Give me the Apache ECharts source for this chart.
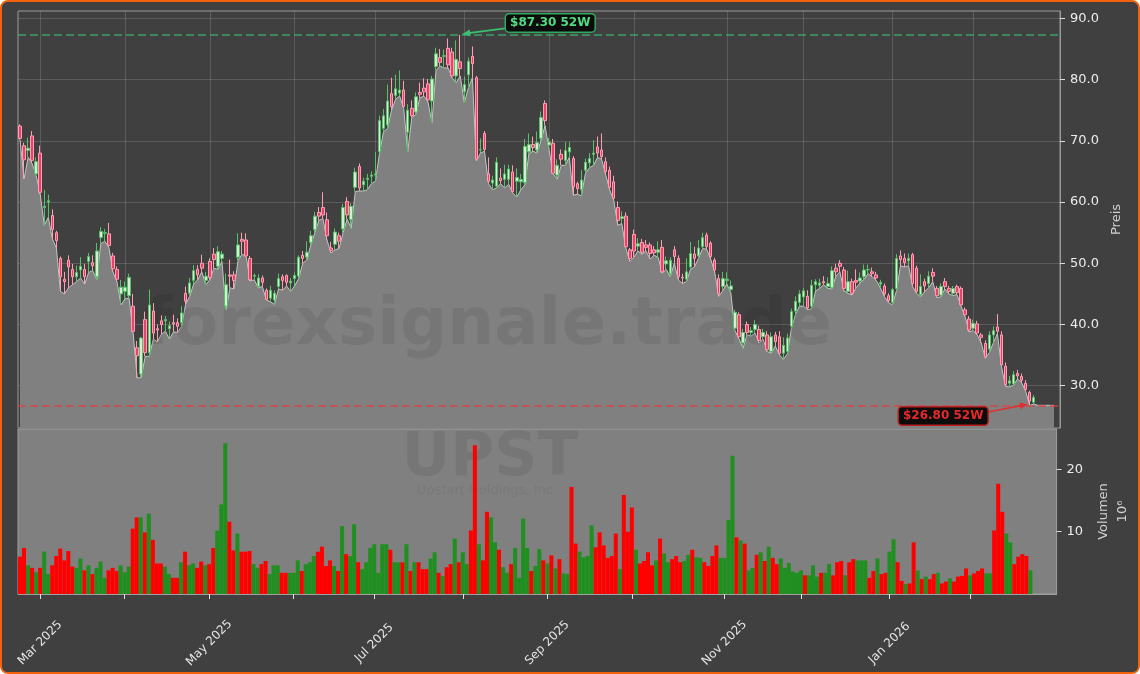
<!DOCTYPE html>
<html><head><meta charset="utf-8">
<script src="https://cdn.jsdelivr.net/npm/echarts@6/dist/echarts.min.js"></script>
<style>
html,body{margin:0;padding:0;background:#ffffff;}
#frame{position:absolute;left:0;top:0;width:1140px;height:674px;box-sizing:border-box;border:2px solid #f2620c;border-radius:8px;overflow:hidden;background:#404040;}
#chart{position:absolute;left:-2px;top:-2px;width:1140px;height:674px;}
</style></head><body>
<div id="frame"><div id="chart"></div></div>
<script>
// ---------------- DATA ----------------
const START_DATE = '2025-02-24';
const END_DATE = '2026-02-24';
const HOLIDAYS = ['2025-04-18','2025-05-26','2025-06-19','2025-07-04','2025-09-01','2025-11-27','2025-12-25','2026-01-01','2026-01-19','2026-02-16'];
const MONTHS = ['Jan','Feb','Mar','Apr','May','Jun','Jul','Aug','Sep','Oct','Nov','Dec'];
const PRICE_TICKS = [30,40,50,60,70,80,90];
const VOLUME_TICKS = [10,20];

const open = [
72.4,69.2,68.4,70.8,64.6,68.0,59.1,60.0,57.8,55.0,
50.8,47.4,50.5,49.0,47.8,48.9,49.0,50.3,50.1,47.8,
54.2,54.9,54.8,51.2,49.0,45.0,45.4,44.7,43.0,36.2,
31.9,40.8,35.4,42.2,39.3,40.6,40.6,39.3,40.3,40.3,
40.3,45.1,45.1,47.2,49.0,50.0,47.2,50.3,51.5,49.5,
50.8,43.0,48.1,48.1,51.0,53.9,53.8,50.8,47.9,46.2,
47.6,45.6,44.3,44.0,46.2,47.8,48.0,46.8,47.5,47.9,
51.3,51.0,53.4,55.5,58.3,59.1,57.1,52.5,53.1,54.5,
55.6,60.1,57.1,62.4,65.8,62.8,63.7,64.2,64.4,68.2,
72.0,72.6,77.7,77.4,77.8,78.3,71.4,75.3,74.7,77.9,
78.6,79.3,76.5,82.1,83.6,83.8,85.1,84.5,80.6,82.9,
78.0,80.8,83.8,80.3,68.5,71.2,64.6,63.1,62.6,63.9,
63.7,63.7,64.9,63.4,63.3,63.2,68.2,69.4,68.5,70.4,
76.1,69.3,69.6,64.4,67.8,66.8,68.2,67.1,63.0,62.0,
65.2,66.4,67.8,69.0,68.5,66.6,65.2,63.3,59.1,57.3,
57.7,52.2,54.7,52.8,53.4,53.0,53.0,52.2,51.8,52.6,
49.9,48.3,52.2,50.8,47.7,47.4,49.4,51.5,51.2,52.7,
54.6,53.3,50.5,47.5,46.2,47.2,45.7,39.4,41.6,37.0,
40.0,38.7,39.2,39.2,38.0,38.3,35.6,38.3,38.0,35.3,
35.6,39.7,42.2,43.6,44.5,44.6,43.0,46.5,46.4,47.0,
46.2,46.0,49.2,50.0,48.9,45.4,47.0,47.2,47.1,47.8,
48.9,48.6,48.1,46.6,46.3,44.7,43.6,45.9,51.2,50.8,
50.4,51.4,49.2,44.9,47.0,46.7,48.5,45.9,44.8,47.0,
45.9,45.1,46.2,45.9,42.4,40.9,39.4,40.1,38.3,36.9,
36.0,38.3,39.6,38.3,33.2,30.4,30.3,32.0,31.5,30.4,
28.9,27.3];

const high = [
72.7,69.7,70.5,71.6,67.3,69.2,62.0,61.2,58.8,55.3,
51.1,48.6,51.3,49.9,49.6,51.0,49.9,51.7,51.3,53.3,
55.9,55.6,56.6,51.7,49.5,47.3,47.0,48.3,45.0,37.3,
38.0,42.1,45.7,43.5,40.0,41.5,41.4,40.5,41.6,41.0,
43.0,46.2,47.6,49.7,49.7,51.4,48.6,50.8,52.5,52.8,
52.0,48.3,50.6,48.7,54.9,55.0,54.9,51.2,48.3,48.2,
48.0,45.9,46.3,45.6,48.3,48.2,48.2,47.6,48.5,51.3,
52.0,53.6,55.3,58.4,59.2,61.6,58.3,53.5,55.7,55.0,
59.7,60.8,59.8,65.6,66.3,64.0,64.6,65.0,68.2,74.1,
75.2,79.2,80.3,80.8,81.5,79.8,76.0,76.6,77.9,79.5,
80.2,80.1,80.6,85.2,85.0,84.9,86.7,85.2,86.4,87.3,
80.5,83.6,85.4,80.6,70.4,71.6,67.3,64.3,67.3,65.5,
66.1,66.1,66.0,65.5,64.6,70.3,71.2,70.7,71.5,74.8,
76.6,70.5,70.3,67.0,68.6,69.8,69.8,67.5,63.3,65.2,
67.1,68.0,70.1,70.7,71.2,67.3,65.8,64.3,60.1,58.5,
58.3,52.5,55.5,54.1,54.0,53.8,53.4,52.8,53.6,53.8,
51.1,51.0,52.8,51.3,48.3,50.8,53.5,52.7,53.8,55.0,
55.0,53.6,50.9,48.2,48.6,48.5,47.2,42.4,42.0,39.3,
40.5,39.6,40.7,39.8,39.3,38.9,38.7,38.8,38.9,37.9,
38.5,42.6,44.6,45.6,46.0,45.6,47.3,47.4,47.5,47.9,
47.7,49.5,49.9,50.5,49.4,48.8,47.5,49.0,48.5,49.8,
49.8,49.3,48.6,47.3,46.7,45.1,46.0,51.5,52.1,51.6,
51.6,51.7,49.6,48.2,47.5,48.7,49.2,46.3,46.7,47.6,
46.3,46.3,46.5,46.2,42.8,41.4,40.8,40.6,38.6,37.4,
38.9,39.7,41.7,38.9,33.8,31.6,32.4,32.6,32.0,30.9,
29.2,28.5];

const low = [
70.2,63.8,67.3,66.3,64.3,61.3,56.2,57.5,54.0,52.5,
45.4,45.0,46.0,46.5,47.0,47.6,46.6,48.5,48.8,47.3,
53.2,53.6,52.6,48.6,47.0,43.2,44.2,44.3,38.7,31.3,
31.3,34.8,34.8,37.6,37.2,38.4,38.9,37.6,38.8,38.7,
39.7,43.3,44.6,46.6,47.3,48.6,46.5,47.3,49.2,49.0,
50.3,42.4,46.0,45.8,50.5,51.5,51.1,47.1,47.3,46.0,
46.2,44.0,43.7,43.3,45.8,45.6,46.3,45.4,46.3,47.5,
50.0,50.5,53.0,55.0,57.0,57.3,53.8,51.7,52.2,52.4,
55.0,57.2,55.7,61.7,61.8,61.8,62.0,63.0,63.4,67.9,
71.5,72.0,75.0,76.8,77.3,75.3,68.2,73.8,74.3,77.0,
77.3,76.4,73.0,81.5,82.2,81.9,81.9,80.3,79.5,80.6,
76.2,78.6,80.3,66.7,68.0,68.3,63.0,62.0,62.3,63.0,
62.3,62.9,61.5,60.8,62.0,62.8,67.9,68.3,68.0,70.0,
72.5,68.5,64.6,63.7,66.0,66.0,67.3,61.1,61.3,61.0,
64.7,65.6,66.0,67.3,67.0,64.5,62.0,60.3,56.2,56.5,
52.5,50.3,51.0,52.0,51.5,52.0,50.7,51.3,51.0,48.4,
49.0,47.8,50.0,47.3,46.7,47.0,49.0,49.4,50.8,52.4,
52.3,50.7,48.6,44.6,45.5,46.6,45.2,39.0,37.7,36.1,
38.3,38.1,38.6,37.0,37.6,35.6,35.3,36.5,35.1,34.3,
35.2,39.4,41.6,43.0,43.0,42.4,42.6,45.5,45.9,46.5,
45.9,45.8,47.9,48.6,45.5,45.1,44.8,46.0,46.8,47.4,
48.3,47.8,47.2,46.0,44.6,43.6,43.2,45.5,49.6,49.4,
49.6,46.2,45.1,44.5,45.4,46.0,47.0,44.4,44.5,45.8,
45.0,44.7,44.9,43.0,41.3,38.8,39.0,38.3,37.0,34.5,
35.4,37.0,38.5,33.2,29.9,29.8,30.1,31.1,30.5,29.1,
26.8,27.0];

const close = [
70.4,66.9,68.8,66.8,66.6,61.6,59.3,60.2,55.5,53.7,
47.8,47.0,49.4,47.8,48.5,49.5,47.8,51.1,49.6,52.0,
55.2,55.0,52.9,49.1,47.4,46.1,46.1,47.7,38.9,34.9,
37.8,35.4,43.2,38.6,39.1,40.0,40.8,39.8,40.1,39.7,
41.9,43.8,46.8,48.8,48.1,49.2,47.9,47.7,50.6,51.9,
51.5,46.5,47.9,47.2,53.0,53.6,51.2,47.3,48.0,47.6,
46.9,44.1,45.6,45.1,47.5,47.2,46.9,47.1,48.0,51.0,
50.8,51.8,54.5,57.7,57.7,57.9,54.5,52.1,55.1,53.6,
59.1,57.9,59.3,64.9,62.3,63.4,63.9,64.4,64.6,73.3,
74.1,76.5,75.6,78.5,78.3,75.6,75.0,74.1,77.2,77.6,
78.0,76.7,80.1,84.2,82.8,83.9,82.4,80.6,83.3,81.8,
79.2,83.0,82.6,67.0,68.6,68.6,63.4,63.6,66.5,63.5,
64.6,65.4,61.7,64.0,63.7,69.1,69.4,68.9,69.7,73.8,
73.3,69.8,64.7,66.0,67.0,68.4,68.9,62.5,62.2,63.6,
66.5,67.1,68.0,68.0,67.4,65.0,62.4,60.6,57.0,57.6,
52.7,50.8,52.0,53.2,51.8,52.6,51.6,51.7,52.2,48.6,
50.4,50.5,51.1,47.8,47.6,48.6,51.6,50.8,52.5,54.2,
52.7,51.1,48.9,45.0,47.5,47.4,46.3,42.0,38.0,38.7,
38.7,39.0,40.0,37.4,38.7,35.9,38.0,37.2,35.3,36.6,
37.8,42.1,43.8,45.0,45.5,42.7,46.4,47.0,46.8,46.8,
46.7,48.8,48.6,49.5,45.9,47.0,45.1,46.9,47.6,48.9,
49.0,48.3,47.6,46.9,45.0,43.9,45.7,50.8,50.6,50.1,
50.8,46.7,45.4,46.2,46.3,47.9,47.9,44.7,46.2,46.2,
45.4,45.9,45.2,43.2,41.6,39.1,40.2,38.6,37.9,34.7,
38.3,39.0,38.9,33.4,30.2,30.8,31.8,31.6,30.9,29.4,
27.5,28.1];

// volume in millions
const volume = [
6.0,7.4,4.6,4.2,3.5,4.2,6.8,3.2,4.6,6.1,
7.3,5.4,6.9,4.4,4.2,5.7,3.8,4.6,3.2,4.2,
5.2,2.6,3.8,4.2,3.7,4.6,3.5,4.4,10.5,12.3,
12.3,9.9,12.9,8.7,4.9,4.9,4.4,3.2,2.6,2.6,
5.1,6.8,4.6,4.9,4.2,5.2,4.6,4.8,7.4,10.2,
14.4,24.2,11.6,7.0,9.7,6.8,6.8,6.9,4.8,4.2,
4.8,5.3,3.2,4.6,4.6,3.4,3.4,3.4,3.4,5.4,
3.7,4.8,5.1,6.1,6.8,7.6,4.5,5.4,4.5,3.7,
10.9,6.4,6.1,11.2,5.1,4.0,5.1,7.4,8.0,3.4,
8.0,8.0,7.1,5.1,5.1,5.1,8.0,3.7,5.1,5.1,
4.0,4.0,5.7,6.7,3.4,2.9,4.3,4.8,8.9,5.1,
6.7,4.8,10.2,23.9,8.0,5.4,13.2,12.3,8.3,7.1,
4.3,3.4,4.8,7.4,2.6,12.1,7.4,3.7,4.5,7.2,
5.4,4.9,6.2,4.1,5.6,3.3,3.2,17.2,8.1,6.8,
5.9,6.1,11.0,7.5,9.9,7.8,5.8,6.1,9.7,4.0,
15.9,10.0,13.9,7.1,4.9,5.3,6.7,4.6,5.4,8.9,
6.5,5.1,5.6,6.1,5.1,5.3,6.3,7.1,5.9,5.8,
5.1,4.5,6.1,7.8,5.8,5.8,11.9,22.2,9.1,8.6,
8.1,3.8,4.2,6.3,6.7,5.3,7.6,5.8,4.8,5.7,
4.2,5.0,3.6,3.4,3.8,3.0,3.0,4.6,2.8,3.4,
3.4,4.8,3.0,5.1,5.3,3.0,5.1,5.6,5.4,5.4,
5.4,2.6,3.7,5.7,3.2,3.4,6.8,8.8,5.1,2.1,
1.6,1.7,8.3,3.8,2.4,2.8,2.4,3.2,3.4,1.7,
2.0,2.5,2.0,2.8,2.9,4.1,3.0,3.3,3.7,4.1,
3.3,3.3,10.2,17.7,13.2,9.7,8.3,4.8,6.0,6.4,
6.1,3.8];

// shaded area continues flat after the last session (as in the picture)
const areaTail = [26.8,26.8,26.8,26.8,26.8];
const PAD_SLOTS = 6;

// ---------------- BUILD ----------------
function tradingDays(start, end, holidays) {
  const out = [];
  const d = new Date(start + 'T00:00:00Z');
  const e = new Date(end + 'T00:00:00Z');
  while (d <= e) {
    const wd = d.getUTCDay();
    const s = d.toISOString().slice(0, 10);
    if (wd !== 0 && wd !== 6 && holidays.indexOf(s) < 0) out.push(s);
    d.setUTCDate(d.getUTCDate() + 1);
  }
  return out;
}
const dates = tradingDays(START_DATE, END_DATE, HOLIDAYS);
const categories = dates.slice();
for (let k = 0; k < PAD_SLOTS; k++) categories.push('pad' + k);

const isMonthStart = categories.map((c, i) => i > 0 && i < dates.length && dates[i].slice(5, 7) !== dates[i - 1].slice(5, 7));
const isLabelMonth = categories.map((c, i) => isMonthStart[i] && (parseInt(dates[i].slice(5, 7), 10) - 1) % 2 === 0);

const candleData = open.map((o, i) => [o, close[i], low[i], high[i]]);
const areaData = low.concat(areaTail);
const volData = volume.map((v, i) => ({
  value: v,
  itemStyle: { color: close[i] >= open[i] ? '#1f8f1f' : '#ff0000' }
}));

const hiVal = Math.max.apply(null, high), iHi = high.indexOf(hiVal);
const loVal = Math.min.apply(null, low), iLo = low.indexOf(loVal);

const FONT = '"DejaVu Sans", "Noto Sans", sans-serif';
const GRID_LINE = 'rgba(255,255,255,0.14)';

const option = {
  backgroundColor: '#404040',
  animation: false,
  textStyle: { fontFamily: FONT },
  grid: [
    { left: 18, right: 80, top: 11, height: 417, show: true, borderColor: '#9a9a9a', borderWidth: 1, backgroundColor: 'transparent' },
    { left: 18, right: 80, top: 429, height: 165, show: true, borderColor: '#a0a0a0', borderWidth: 1, backgroundColor: '#808080' }
  ],
  xAxis: [
    {
      type: 'category', gridIndex: 0, data: categories, boundaryGap: true,
      axisLine: { show: false }, axisTick: { show: false }, axisLabel: { show: false },
      splitLine: { show: true, alignWithLabel: true, interval: (i) => isMonthStart[i], lineStyle: { color: GRID_LINE, width: 1 } }
    },
    {
      type: 'category', gridIndex: 1, data: categories, boundaryGap: true,
      axisLine: { show: true, lineStyle: { color: '#a0a0a0' } },
      axisTick: { show: true, alignWithLabel: true, interval: (i) => isMonthStart[i], length: 5, lineStyle: { color: '#e0e0e0' } },
      axisLabel: {
        show: true, interval: (i) => isLabelMonth[i], rotate: 45, align: 'center', verticalAlign: 'middle',
        margin: 49, color: '#e4e4e4', fontSize: 12, fontFamily: FONT,
        formatter: (v) => { const m = parseInt(v.slice(5, 7), 10) - 1; return MONTHS[m] + ' ' + v.slice(0, 4); }
      },
      splitLine: { show: false }
    }
  ],
  yAxis: [
    {
      type: 'value', gridIndex: 0, position: 'right', min: 23.1, max: 91.2, splitNumber: 6,
      axisLine: { show: true, lineStyle: { color: '#9a9a9a' } },
      axisTick: { show: true, length: 5, customValues: PRICE_TICKS, lineStyle: { color: '#dddddd' } },
      axisLabel: { color: '#ececec', fontSize: 13, fontFamily: FONT, margin: 10, customValues: PRICE_TICKS,
        formatter: (v) => Number(v).toFixed(1) },
      splitLine: { show: true, lineStyle: { color: GRID_LINE, width: 1 } },
      name: 'Preis', nameLocation: 'middle', nameGap: 46, nameRotate: 90,
      nameTextStyle: { color: '#cfcfcf', fontSize: 13, fontFamily: FONT }
    },
    {
      type: 'value', gridIndex: 1, position: 'right', min: 0, max: 26.5, interval: 10,
      axisLine: { show: true, lineStyle: { color: '#9a9a9a' } },
      axisTick: { show: true, length: 5, customValues: VOLUME_TICKS, lineStyle: { color: '#dddddd' } },
      axisLabel: { color: '#ececec', fontSize: 13, fontFamily: FONT, margin: 10, customValues: VOLUME_TICKS,
        formatter: (v) => String(v) },
      splitLine: { show: false },
      name: 'Volumen\n10\u2076', nameLocation: 'middle', nameGap: 32, nameRotate: 90,
      nameTextStyle: { color: '#cfcfcf', fontSize: 13, fontFamily: FONT, lineHeight: 19 }
    }
  ],
  series: [
    {
      name: 'area', type: 'line', xAxisIndex: 0, yAxisIndex: 0, data: areaData, z: 1,
      showSymbol: false, symbol: 'none', silent: true, smooth: false,
      lineStyle: { color: '#c4c4c4', width: 1 },
      areaStyle: { color: '#808080', opacity: 1, origin: 'start' }
    },
    {
      name: 'price', type: 'candlestick', xAxisIndex: 0, yAxisIndex: 0, data: candleData, z: 3,
      barWidth: 3,
      itemStyle: { color: '#d6ecd6', color0: '#e8446a', borderColor: '#55c265', borderColor0: '#ff9db2', borderWidth: 1 },
      markLine: {
        silent: true, symbol: ['none', 'none'], label: { show: false }, animation: false,
        data: [
          { yAxis: hiVal, lineStyle: { color: '#3cb371', width: 1.5, type: [8, 4], opacity: 0.85 } },
          { yAxis: loVal, lineStyle: { color: '#e04040', width: 1.5, type: [8, 4], opacity: 0.85 } }
        ]
      }
    },
    {
      name: 'volume', type: 'bar', xAxisIndex: 1, yAxisIndex: 1, data: volData, z: 3,
      barCategoryGap: '0%', barGap: '0%'
    }
  ]
};

const chart = echarts.init(document.getElementById('chart'), null, { renderer: 'canvas' });
chart.setOption(option);

// ---------------- ANNOTATIONS (anchored on data points) ----------------
const pHi = chart.convertToPixel({ seriesIndex: 1 }, [iHi, hiVal]);
const pLo = chart.convertToPixel({ seriesIndex: 1 }, [iLo, loVal]);

function arrowEls(from, to, color) {
  const dx = to[0] - from[0], dy = to[1] - from[1];
  const len = Math.sqrt(dx * dx + dy * dy);
  const ux = dx / len, uy = dy / len, px = -uy, py = ux;
  const L = 8, W = 3.5;
  const bx = to[0] - ux * L, by = to[1] - uy * L;
  return [
    { type: 'line', z: 20, silent: true, shape: { x1: from[0], y1: from[1], x2: bx + ux * 2, y2: by + uy * 2 },
      style: { stroke: color, lineWidth: 1.6 } },
    { type: 'polygon', z: 20, silent: true, shape: { points: [[to[0], to[1]], [bx + px * W, by + py * W], [bx - px * W, by - py * W]] },
      style: { fill: color } }
  ];
}
function boxEl(cx, cy, text, fg, border) {
  return { type: 'text', z: 21, silent: true, x: cx, y: cy,
    style: { text: text, fill: fg, font: 'bold 12px ' + FONT, align: 'center', verticalAlign: 'middle',
      textAlign: 'center', textVerticalAlign: 'middle',
      backgroundColor: '#0c0c0c', borderColor: border, borderWidth: 1.5, borderRadius: 3, padding: [3, 4, 2, 4] } };
}

const hiBox = [pHi[0] + 90, pHi[1] - 12];
const loBox = [pLo[0] - 86.5, pLo[1] + 10.7];

const wmFill = 'rgba(0,0,0,0.075)';
const graphics = [
  { type: 'text', z: 2, silent: true, x: 488, y: 327,
    style: { text: 'forexsignale.trade', fill: wmFill, font: 'bold 66px ' + FONT, align: 'center', verticalAlign: 'middle', textAlign: 'center', textVerticalAlign: 'middle' } },
  { type: 'text', z: 2, silent: true, x: 490, y: 459,
    style: { text: 'UPST', fill: wmFill, font: 'bold 60px ' + FONT, align: 'center', verticalAlign: 'middle', textAlign: 'center', textVerticalAlign: 'middle' } },
  { type: 'text', z: 2, silent: true, x: 487, y: 491,
    style: { text: 'Upstart Holdings, Inc.', fill: 'rgba(0,0,0,0.06)', font: '13px ' + FONT, align: 'center', verticalAlign: 'middle', textAlign: 'center', textVerticalAlign: 'middle' } }
]
.concat(arrowEls([hiBox[0] - 45, hiBox[1] + 5.5], [pHi[0] + 2, pHi[1] - 1], '#3cc070'))
.concat([boxEl(hiBox[0], hiBox[1], '$' + hiVal.toFixed(2) + ' 52W', '#52dc80', '#2fa85c')])
.concat(arrowEls([loBox[0] + 45, loBox[1] - 4], [pLo[0] - 2, pLo[1] - 1], '#e03030'))
.concat([boxEl(loBox[0], loBox[1], '$' + loVal.toFixed(2) + ' 52W', '#e42a2a', '#b82020')]);

chart.setOption({ graphic: { elements: graphics } });
</script>
</body></html>
